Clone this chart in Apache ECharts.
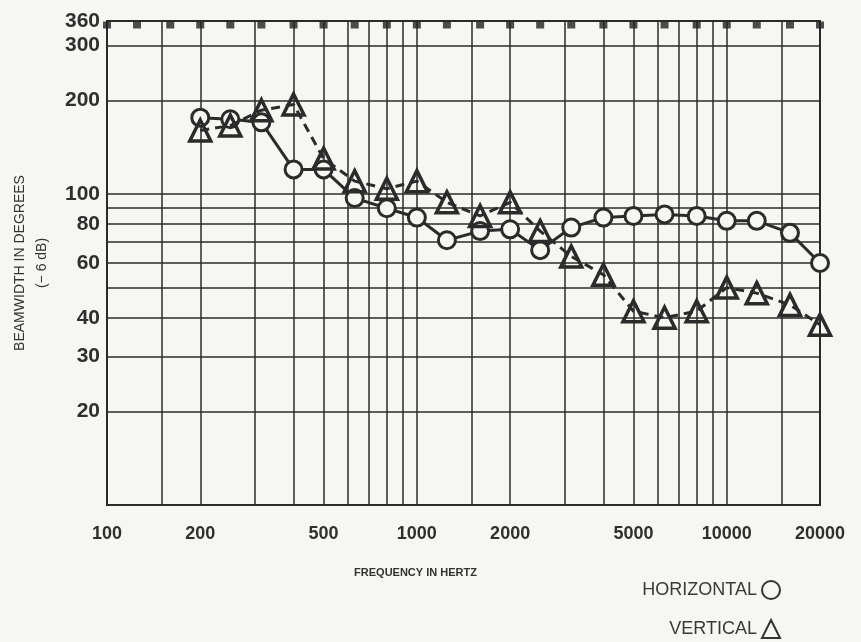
<!DOCTYPE html>
<html>
<head>
<meta charset="utf-8">
<script src="https://cdn.jsdelivr.net/npm/echarts@6/dist/echarts.min.js"></script>
<style>
html, body { margin: 0; background: #f6f6f3; }
#main { width: 861px; height: 642px; }
</style>
</head>
<body>
<div id="main"></div>
<script>
// 1/3 octave measurement points
var freqs = [200, 250, 315, 400, 500, 630, 800, 1000, 1250, 1600, 2000, 2500, 3150, 4000, 5000, 6300, 8000, 10000, 12500, 16000, 20000];
var horizontal = [176, 174, 170, 120, 120, 97, 90, 84, 71, 76, 77, 66, 78, 84, 85, 86, 85, 82, 82, 75, 60];
var vertical = [160, 166, 186, 194, 130, 110, 104, 110, 94, 85, 94, 76, 63, 55, 42, 40, 42, 50, 48, 44, 38];

// little black squares along the 360 line
var topFreqs = [100, 125, 160, 200, 250, 315, 400, 500, 630, 800, 1000, 1250, 1600, 2000, 2500, 3150, 4000, 5000, 6300, 8000, 10000, 12500, 16000, 20000];

var xGrid = [150, 200, 300, 400, 500, 600, 700, 800, 900, 1000, 1500, 2000, 3000, 4000, 5000, 6000, 7000, 8000, 9000, 10000, 15000, 20000];
var xLabels = [100, 200, 500, 1000, 2000, 5000, 10000, 20000];
var yGrid = [20, 30, 40, 50, 60, 70, 80, 90, 100, 200, 300];
var yLabels = [20, 30, 40, 60, 80, 100, 200, 300, 360];

var ink = '#2b2b2b';

var myChart = echarts.init(document.getElementById('main'));

function pairs(xs, ys) {
    return xs.map(function (x, i) { return [x, ys[i]]; });
}
function plain(v) { return String(v); }

myChart.setOption({
    animation: false,
    backgroundColor: '#f6f6f3',
    grid: {
        left: 107, right: 41, top: 21, bottom: 137,
        outerBoundsMode: 'none', containLabel: false,
        show: true, borderColor: ink, borderWidth: 2, backgroundColor: 'transparent'
    },
    xAxis: {
        type: 'log', logBase: 10, min: 100, max: 20000,
        name: 'FREQUENCY IN HERTZ', nameLocation: 'middle', nameGap: 62,
        nameTextStyle: { fontSize: 11, fontWeight: 'bold', color: '#333', fontFamily: 'Liberation Sans', padding: [0, 96, 0, 0] },
        axisLine: { show: true, lineStyle: { color: ink, width: 2 } },
        axisTick: { show: false, customValues: xGrid },
        splitLine: { show: true, lineStyle: { color: ink, width: 1.5 } },
        axisLabel: {
            customValues: xLabels, margin: 20, formatter: plain,
            fontSize: 18, fontWeight: 'bold', color: '#2f2f2f', fontFamily: 'Liberation Sans'
        }
    },
    yAxis: {
        type: 'log', logBase: 10, min: 10, max: 360,
        name: 'BEAMWIDTH IN DEGREES\n(− 6 dB)', nameLocation: 'middle', nameGap: 54, nameRotate: 90,
        nameTextStyle: { fontSize: 14, color: '#333', fontFamily: 'Liberation Sans', lineHeight: 22 },
        axisLine: { show: true, lineStyle: { color: ink, width: 2 } },
        axisTick: { show: false, customValues: yGrid },
        splitLine: { show: true, lineStyle: { color: ink, width: 1.5 } },
        axisLabel: {
            customValues: yLabels, margin: 7, formatter: plain,
            fontSize: 21, fontWeight: 'bold', color: '#2f2f2f', fontFamily: 'Liberation Sans'
        }
    },
    legend: {
        orient: 'vertical', right: 80, top: 580, align: 'right', padding: 0,
        itemGap: 19, itemWidth: 18, itemHeight: 18,
        textStyle: { fontSize: 18, color: '#3a3a3a', fontFamily: 'Liberation Sans' },
        data: [
            { name: 'HORIZONTAL', icon: 'circle', itemStyle: { color: 'transparent', borderColor: '#333', borderWidth: 2 } },
            { name: 'VERTICAL', icon: 'triangle', itemStyle: { color: 'transparent', borderColor: '#333', borderWidth: 2 } }
        ]
    },
    series: [
        {
            name: 'HORIZONTAL', type: 'line',
            data: pairs(freqs, horizontal),
            symbol: 'circle', symbolSize: 17, showAllSymbol: true,
            lineStyle: { color: ink, width: 3 },
            itemStyle: { color: '#f6f6f3', borderColor: ink, borderWidth: 3 },
            z: 3
        },
        {
            name: 'VERTICAL', type: 'line',
            data: pairs(freqs, vertical),
            symbol: 'triangle', symbolSize: 21, showAllSymbol: true,
            lineStyle: { color: ink, width: 3, type: [9, 6] },
            itemStyle: { color: 'transparent', borderColor: ink, borderWidth: 3.5 },
            z: 4
        },
        {
            name: 'marks', type: 'scatter',
            data: topFreqs.map(function (f) { return [f, 360]; }),
            symbol: 'rect', symbolSize: [8, 7], symbolOffset: [0, 4],
            itemStyle: { color: '#222' },
            silent: true
        }
    ]
});
</script>
</body>
</html>
